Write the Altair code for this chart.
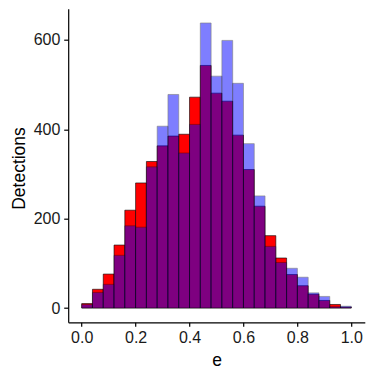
import altair as alt
import pandas as pd

bin_start = [round(i * 0.04, 2) for i in range(25)]
red_counts = [10, 42, 76, 141, 219, 280, 328, 363, 385, 389, 472, 543, 481,
              463, 387, 310, 228, 162, 112, 75, 50, 31, 17, 8, 2]
blue_counts = [8, 35, 53, 118, 184, 181, 316, 407, 478, 347, 411, 638, 519,
               599, 503, 368, 251, 138, 102, 89, 69, 34, 26, 3, 4]

df_red = pd.DataFrame({"x": bin_start, "x2": [b + 0.04 for b in bin_start], "n": red_counts})
df_blue = pd.DataFrame({"x": bin_start, "x2": [b + 0.04 for b in bin_start], "n": blue_counts})

FONT = "Liberation Sans"

xscale = alt.Scale(domain=[-0.05, 1.05], nice=False, zero=False)
yscale = alt.Scale(domain=[-31.9, 670], nice=False, zero=False)

xaxis = alt.Axis(values=[0, 0.2, 0.4, 0.6, 0.8, 1.0], format=".1f", title="e",
                 grid=False, domainColor="black", domainWidth=1.2, tickColor="black",
                 tickWidth=1.2, tickSize=4, labelPadding=3, labelFontSize=16,
                 labelColor="#1a1a1a", labelFont=FONT, titleFont=FONT, titleFontSize=17.5,
                 titleFontWeight="normal", titleColor="black", titleY=43, titleX=148.3,
                 titleBaseline="alphabetic", titleAlign="center")
yaxis = alt.Axis(values=[0, 200, 400, 600], title="Detections",
                 grid=False, domainColor="black", domainWidth=1.2, tickColor="black",
                 tickWidth=1.2, tickSize=4.5, labelPadding=3.8, labelFontSize=16,
                 labelColor="#1a1a1a", labelFont=FONT, titleFont=FONT, titleFontSize=17.5,
                 titleFontWeight="normal", titleColor="black", titleX=-44, titleY=159.3,
                 titleAngle=-90, titleBaseline="alphabetic", titleAlign="center")

red = alt.Chart(df_red).mark_bar(fill="#FF0000", stroke="black", strokeWidth=0.6).encode(
    x=alt.X("x:Q", scale=xscale, axis=xaxis),
    x2="x2:Q",
    y=alt.Y("n:Q", scale=yscale, axis=yaxis),
    y2=alt.datum(0),
)
blue = alt.Chart(df_blue).mark_bar(fill="#0000FF", stroke="black", strokeWidth=0.6, opacity=0.5).encode(
    x=alt.X("x:Q", scale=xscale, axis=xaxis),
    x2="x2:Q",
    y=alt.Y("n:Q", scale=yscale, axis=yaxis),
    y2=alt.datum(0),
)

chart = alt.layer(red, blue).properties(
    width=296.6, height=313.6,
    autosize=alt.AutoSizeParams(type="none"),
    padding={"left": 60.2, "top": 0.7, "right": 1, "bottom": 50},
    background="white",
).configure_view(stroke=None)

chart.save("out.html", embed_options={"renderer": "svg", "actions": False})
